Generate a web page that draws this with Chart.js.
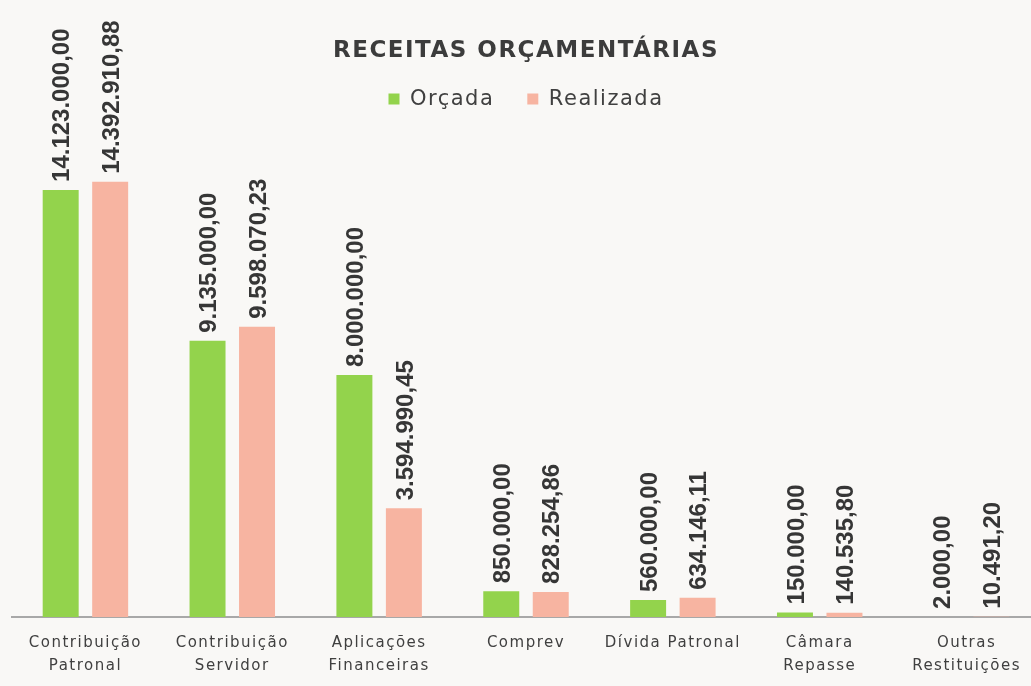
<!DOCTYPE html>
<html>
<head>
<meta charset="utf-8">
<script src="https://cdn.jsdelivr.net/npm/chart.js@4.4.1/dist/chart.umd.min.js"></script>
<style>
  html, body { margin: 0; padding: 0; overflow: hidden; background: #f9f8f6; }
  #wrap { position: absolute; left: 0; top: 0; width: 1042px; height: 692px; }
</style>
</head>
<body>
<div id="wrap"><canvas id="c" width="1042" height="692"></canvas></div>
<script>
const categories = [
  ["Contribuição", "Patronal"],
  ["Contribuição", "Servidor"],
  ["Aplicações", "Financeiras"],
  ["Comprev"],
  ["Dívida Patronal"],
  ["Câmara", "Repasse"],
  ["Outras", "Restituições"]
];
const orcada = [14123000.00, 9135000.00, 8000000.00, 850000.00, 560000.00, 150000.00, 2000.00];
const realizada = [14392910.88, 9598070.23, 3594990.45, 828254.86, 634146.11, 140535.80, 10491.20];
const seriesNames = ["Orçada", "Realizada"];
const chartTitle = "RECEITAS ORÇAMENTÁRIAS";

function fmtBR(v) {
  const parts = v.toFixed(2).split('.');
  parts[0] = parts[0].replace(/\B(?=(\d{3})+(?!\d))/g, '.');
  return parts[0] + ',' + parts[1];
}

const spacing = {
  id: 'spacing',
  beforeLayout(chart) { chart.ctx.letterSpacing = '1.5px'; },
  beforeDraw(chart) { chart.ctx.letterSpacing = '1.5px'; }
};

const barLabels = {
  id: 'barLabels',
  afterDatasetsDraw(chart) {
    const ctx = chart.ctx;
    ctx.save();
    ctx.letterSpacing = '0px';
    ctx.font = 'bold 24px "Liberation Sans", Arial, sans-serif';
    ctx.fillStyle = '#363636';
    ctx.textAlign = 'left';
    ctx.textBaseline = 'middle';
    chart.data.datasets.forEach((ds, di) => {
      const meta = chart.getDatasetMeta(di);
      meta.data.forEach((bar, i) => {
        ctx.save();
        ctx.translate(bar.x + 2, bar.y - 8);
        ctx.rotate(-Math.PI / 2);
        ctx.fillText(fmtBR(ds.data[i]), 0, 0);
        ctx.restore();
      });
    });
    ctx.restore();
  }
};

new Chart(document.getElementById('c'), {
  type: 'bar',
  data: {
    labels: categories,
    datasets: [
      { label: seriesNames[0], data: orcada, backgroundColor: '#93d34c' },
      { label: seriesNames[1], data: realizada, backgroundColor: '#f7b4a1' }
    ]
  },
  options: {
    responsive: false,
    animation: false,
    devicePixelRatio: 1,
    layout: { padding: { left: 12, right: 2, top: 0, bottom: 0 } },
    datasets: { bar: { categoryPercentage: 0.674, barPercentage: 0.727 } },
    plugins: {
      title: {
        display: true,
        text: chartTitle,
        color: '#3c3c3c',
        font: { family: '"DejaVu Sans", sans-serif', size: 23, weight: 'bold' },
        padding: { top: 37, bottom: -9 }
      },
      legend: {
        display: true,
        labels: {
          color: '#404040',
          font: { family: '"DejaVu Sans", sans-serif', size: 21 },
          boxWidth: 11,
          boxHeight: 11,
          padding: 33
        }
      },
      tooltip: { enabled: false }
    },
    scales: {
      x: {
        grid: { display: false, drawTicks: false },
        border: { display: true, color: '#a8a8a8', width: 2 },
        ticks: {
          color: '#404040',
          font: { family: '"DejaVu Sans", sans-serif', size: 15, lineHeight: 1.5 },
          padding: 15,
          maxRotation: 0,
          autoSkip: false
        }
      },
      y: {
        display: false,
        min: 0,
        max: 16450000
      }
    }
  },
  plugins: [spacing, barLabels]
});
</script>
</body>
</html>
